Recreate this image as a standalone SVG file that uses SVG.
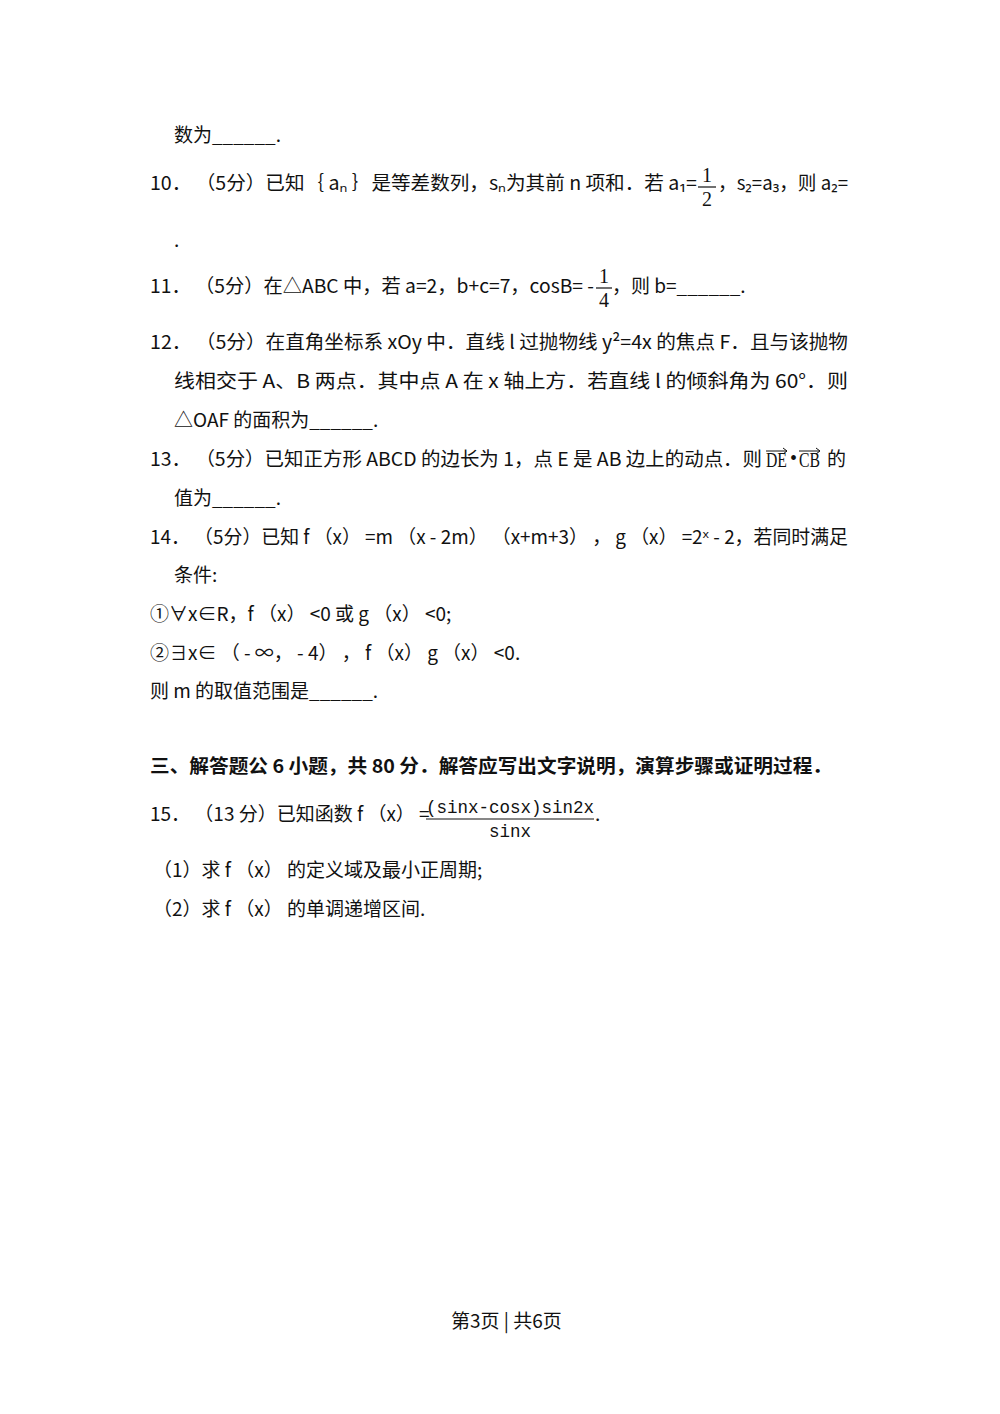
<svg xmlns="http://www.w3.org/2000/svg" width="1000" height="1414" viewBox="0 0 1000 1414">
<style>
text{font-family:"Noto Sans CJK SC","Noto Sans",sans-serif;font-size:19px;fill:#111}
.m{font-family:"Liberation Serif","DejaVu Serif",serif;font-size:20px}
.mono{font-family:"Liberation Mono","DejaVu Sans Mono",monospace;font-size:17.5px}
.b{font-weight:bold}
line{stroke:#111;stroke-width:1.2}
</style>
<rect width="1000" height="1414" fill="#fff"/>
<text x="174" y="142">数为______.</text>
<text x="150" y="190" textLength="547" lengthAdjust="spacingAndGlyphs">10． （5分）已知｛ aₙ ｝是等差数列，sₙ为其前 n 项和．若 a₁=</text>
<text class="m" x="702" y="182">1</text><line x1="698" y1="187" x2="716" y2="187"/><text class="m" x="702" y="206">2</text>
<text x="718" y="190" textLength="130" lengthAdjust="spacingAndGlyphs">，s₂=a₃，则 a₂=</text>
<text x="174" y="247">.</text>
<text x="150" y="293" textLength="444" lengthAdjust="spacingAndGlyphs">11． （5分）在△ABC 中，若 a=2，b+c=7，cosB= -</text>
<text class="m" x="599" y="283">1</text><line x1="596" y1="288" x2="612" y2="288"/><text class="m" x="599" y="307">4</text>
<text x="612" y="293">，则 b=______.</text>
<text x="150" y="349" textLength="698" lengthAdjust="spacingAndGlyphs">12． （5分）在直角坐标系 xOy 中．直线 l 过抛物线 y²=4x 的焦点 F．且与该抛物</text>
<text x="174" y="388" textLength="674" lengthAdjust="spacingAndGlyphs">线相交于 A、B 两点．其中点 A 在 x 轴上方．若直线 l 的倾斜角为 60°．则</text>
<text x="174" y="427">△OAF 的面积为______.</text>
<text x="150" y="466" textLength="612" lengthAdjust="spacingAndGlyphs">13． （5分）已知正方形 ABCD 的边长为 1，点 E 是 AB 边上的动点．则</text>
<text class="m" x="766" y="467" font-size="15" textLength="21" lengthAdjust="spacingAndGlyphs">DE</text><text class="m" x="790" y="465" font-size="12">•</text><text class="m" x="799" y="467" font-size="15" textLength="21" lengthAdjust="spacingAndGlyphs">CB</text>
<path d="M766 451H787M783 448L787 451L783 454M799 451H820M816 448L820 451L816 454" stroke="#111" fill="none" stroke-width="1"/>
<text x="827" y="466">的</text>
<text x="174" y="505">值为______.</text>
<text x="150" y="544" textLength="698" lengthAdjust="spacingAndGlyphs">14． （5分）已知 f （x） =m （x - 2m） （x+m+3） ， g （x） =2ˣ - 2，若同时满足</text>
<text x="174" y="582">条件:</text>
<text x="150" y="621">①∀x∈R，f （x） &lt;0 或 g （x） &lt;0;</text>
<text x="150" y="660">②∃x∈ （ - ∞， - 4） ， f （x） g （x） &lt;0.</text>
<text x="150" y="698">则 m 的取值范围是______.</text>
<text class="b" x="150" y="773" textLength="682" lengthAdjust="spacingAndGlyphs">三、解答题公 6 小题，共 80 分．解答应写出文字说明，演算步骤或证明过程．</text>
<text x="150" y="821">15． （13 分）已知函数 f （x） =</text>
<text class="mono" x="426" y="813">(sinx-cosx)sin2x</text>
<line x1="426" y1="819" x2="594" y2="819"/>
<text class="mono" x="489" y="837">sinx</text>
<text x="595" y="821">.</text>
<text x="153" y="877">（1）求 f （x） 的定义域及最小正周期;</text>
<text x="153" y="916">（2）求 f （x） 的单调递增区间.</text>
<text x="451" y="1328" font-size="17">第3页 | 共6页</text>
</svg>
